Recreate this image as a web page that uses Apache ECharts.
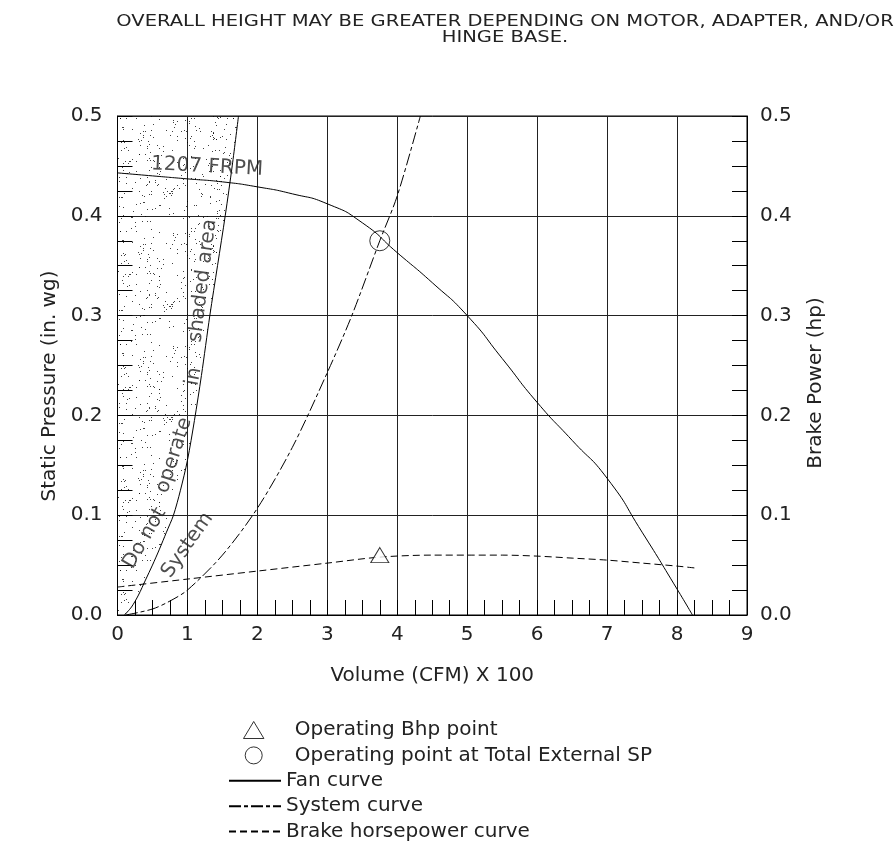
<!DOCTYPE html>
<html><head><meta charset="utf-8">
<script src="https://cdn.jsdelivr.net/npm/echarts@6/dist/echarts.min.js"></script>
<style>html,body{margin:0;padding:0;background:#fff}#c{width:895px;height:859px}</style>
</head><body><div id="c"></div>
<script>
// ---- data ----
const xTicks = [0,1,2,3,4,5,6,7,8,9];
const fanX = [0, 0.5, 1, 1.5, 2, 2.5, 3, 3.5, 4, 4.5, 5, 5.5, 6, 6.5, 7, 7.5, 8, 8.22];
const fanY = [0.443, 0.440, 0.437, 0.434, 0.429, 0.422, 0.412, 0.393, 0.363, 0.333, 0.300, 0.257, 0.213, 0.175, 0.137, 0.083, 0.026, 0.0];
const sysX = [0.12, 0.5, 0.75, 1, 1.5, 2, 2.5, 3, 3.35, 3.75, 4, 4.33];
const sysY = [0, 0.006, 0.014, 0.025, 0.06, 0.107, 0.168, 0.243, 0.300, 0.375, 0.420, 0.500];
const bhpX = [0, 1, 2, 3, 3.75, 4.5, 5, 5.5, 6, 6.5, 7, 7.5, 8, 8.27];
const bhpY = [0.028, 0.036, 0.044, 0.052, 0.058, 0.060, 0.060, 0.060, 0.059, 0.057, 0.055, 0.052, 0.049, 0.047];
const shadeX = [0.1, 0.2, 0.3, 0.4, 0.5, 0.6, 0.7, 0.8, 0.9, 1.0, 1.1, 1.2, 1.32, 1.43, 1.54, 1.64, 1.73];
const shadeY = [0, 0.008, 0.02, 0.035, 0.05, 0.066, 0.083, 0.1, 0.125, 0.155, 0.195, 0.24, 0.3, 0.35, 0.4, 0.45, 0.5];
const bhpPoint = [3.75, 0.06];
const opPoint = [3.75, 0.375];
const annText = ['1207 FRPM', 'Do not', 'operate', 'in', 'shaded area', 'System'];
const annX = [1.28, 0.39, 0.81, 1.09, 1.22, 1.0];
const annY = [0.449, 0.077, 0.16, 0.239, 0.335, 0.07];
const annRot = [-3, 60, 72, 80, 83, 55];
const titleText = 'OVERALL HEIGHT MAY BE GREATER DEPENDING ON MOTOR, ADAPTER, AND/OR\nHINGE BASE.';
const yLeftName = 'Static Pressure (in. wg)';
const yRightName = 'Brake Power (hp)';

// ---- helpers ----
const pairs = (xs, ys) => xs.map((x, i) => [x, ys[i]]);
function makeStipple() {
  const n = 113;
  const c = document.createElement('canvas'); c.width = n; c.height = n;
  const g = c.getContext('2d');
  g.fillStyle = 'rgba(0,0,0,0.75)';
  let s = 12345;
  const rnd = () => { s = (s * 16807) % 2147483647; return s / 2147483647; };
  for (let i = 0; i < 300; i++) {
    g.fillRect(Math.floor(rnd() * n), Math.floor(rnd() * n), 1, 1);
  }
  return c;
}
const stipple = makeStipple();
const FONT = 'DejaVu Sans';
const TXT = '#222';
const TRI = 'path://M9,0L18,15L0,15Z';

const chart = echarts.init(document.getElementById('c'), null, {renderer: 'canvas'});
const axisLabelStyle = {fontFamily: FONT, fontSize: 20, color: TXT};

chart.setOption({
  animation: false,
  backgroundColor: '#fff',
  grid: {left: 117.5, right: 148, top: 116, bottom: 244, show: true, borderColor: '#000', borderWidth: 1},
  graphic: [{
    type: 'text', x: 505, y: 30, scaleX: 1.22,
    style: {text: titleText, font: '16px "DejaVu Sans"', fill: TXT, align: 'center', verticalAlign: 'middle', lineHeight: 16}
  }, {
    type: 'text', x: 50, y: 386, rotation: Math.PI / 2,
    style: {text: yLeftName, font: '20px "DejaVu Sans"', fill: TXT, align: 'center', verticalAlign: 'middle'}
  }, {
    type: 'text', x: 816, y: 383, rotation: Math.PI / 2,
    style: {text: yRightName, font: '20px "DejaVu Sans"', fill: TXT, align: 'center', verticalAlign: 'middle'}
  }],
  xAxis: {
    type: 'value', min: 0, max: 9, interval: 1,
    name: 'Volume (CFM) X 100', nameLocation: 'middle', nameGap: 51,
    nameTextStyle: axisLabelStyle,
    axisLine: {show: true, lineStyle: {color: '#000', width: 1}},
    axisTick: {show: true, inside: true, length: 15, lineStyle: {color: '#000'}},
    minorTick: {show: true, splitNumber: 4, length: 15, lineStyle: {color: '#000'}},
    splitLine: {show: true, lineStyle: {color: '#222', width: 1}},
    axisLabel: Object.assign({margin: 10, formatter: v => String(xTicks[Math.round(v)] ?? v)}, axisLabelStyle)
  },
  yAxis: [{
    type: 'value', min: 0, max: 0.5, interval: 0.1, position: 'left',
    axisLine: {show: true, lineStyle: {color: '#000', width: 1}},
    axisTick: {show: true, inside: true, length: 15, lineStyle: {color: '#000'}},
    minorTick: {show: true, splitNumber: 4, length: 15, lineStyle: {color: '#000'}},
    splitLine: {show: true, lineStyle: {color: '#222', width: 1}},
    axisLabel: Object.assign({margin: 15, formatter: v => v.toFixed(1)}, axisLabelStyle)
  }, {
    type: 'value', min: 0, max: 0.5, interval: 0.1, position: 'right',
    axisLine: {show: true, lineStyle: {color: '#000', width: 1}},
    axisTick: {show: true, inside: true, length: 15, lineStyle: {color: '#000'}},
    minorTick: {show: true, splitNumber: 4, length: 15, lineStyle: {color: '#000'}},
    splitLine: {show: false},
    axisLabel: Object.assign({margin: 13, formatter: v => v.toFixed(1)}, axisLabelStyle)
  }],
  legend: [{
    data: [{name: 'Operating Bhp point', icon: TRI}, {name: 'Operating point at Total External SP', icon: 'circle'}],
    orient: 'vertical', left: 243, top: 720, padding: 0, symbolKeepAspect: true,
    itemWidth: 72, itemHeight: 17, itemGap: 5.4, selectedMode: false,
    itemStyle: {color: '#fff', borderColor: '#000', borderWidth: 1},
    textStyle: {fontFamily: FONT, fontSize: 20, lineHeight: 20, color: TXT}
  }, {
    data: ['Fan curve', 'System curve', 'Brake horsepower curve'],
    orient: 'vertical', left: 228, top: 770.8, padding: 0,
    itemWidth: 52, itemHeight: 14, itemGap: 5.4, selectedMode: false,
    itemStyle: {opacity: 0},
    textStyle: {fontFamily: FONT, fontSize: 20, lineHeight: 20, color: TXT}
  }],
  series: [{
    type: 'custom', name: 'shade', silent: true, z: 1,
    data: [[0, 0]],
    renderItem: (params, api) => {
      const pts = [api.coord([0, 0.5]), api.coord([0, 0])];
      for (let i = 0; i < shadeX.length; i++) pts.push(api.coord([shadeX[i], shadeY[i]]));
      return {type: 'polygon', shape: {points: pts}, style: {fill: {image: stipple, repeat: 'repeat'}, stroke: null}};
    }
  }, {
    type: 'line', name: 'boundary', silent: true, symbol: 'none', smooth: 0.3,
    data: pairs(shadeX, shadeY),
    lineStyle: {color: '#000', width: 1}
  }, {
    type: 'line', name: 'Fan curve', symbol: 'none', smooth: 0.6,
    data: pairs(fanX, fanY),
    itemStyle: {color: '#000'},
    lineStyle: {color: '#000', width: 1}
  }, {
    type: 'line', name: 'System curve', symbol: 'none', smooth: 0.3,
    data: pairs(sysX, sysY),
    itemStyle: {color: '#000'},
    lineStyle: {color: '#000', width: 1, type: [12, 3, 4, 3]}
  }, {
    type: 'line', name: 'Brake horsepower curve', symbol: 'none', smooth: 0.3, yAxisIndex: 1,
    data: pairs(bhpX, bhpY),
    itemStyle: {color: '#000'},
    lineStyle: {color: '#000', width: 1, type: [7, 4]}
  }, {
    type: 'scatter', name: 'Operating Bhp point', yAxisIndex: 1, symbol: TRI, symbolSize: [18, 15],
    data: [bhpPoint], z: 5,
    itemStyle: {color: '#fff', borderColor: '#000', borderWidth: 1}
  }, {
    type: 'scatter', name: 'Operating point at Total External SP', symbol: 'circle', symbolSize: 20,
    data: [opPoint], z: 5,
    itemStyle: {color: 'rgba(255,255,255,0)', borderColor: '#000', borderWidth: 1}
  }, {
    type: 'scatter', name: 'annotations', silent: true, symbolSize: 1, z: 6,
    itemStyle: {color: 'rgba(0,0,0,0)'},
    data: annText.map((t, i) => ({
      value: [annX[i], annY[i]],
      label: {show: true, position: 'inside', formatter: t, rotate: annRot[i],
        fontFamily: FONT, fontSize: 20, color: TXT, align: 'center', verticalAlign: 'middle'}
    }))
  }]
});
</script>
</body></html>
